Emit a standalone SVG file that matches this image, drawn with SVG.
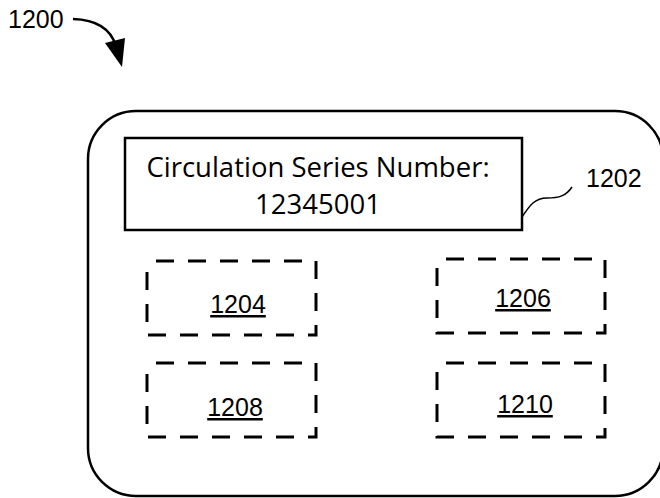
<svg xmlns="http://www.w3.org/2000/svg" width="660" height="498" viewBox="0 0 660 498">
<style>
.line{fill:none;stroke:#000;stroke-width:2.5}
.dash{fill:none;stroke:#000;stroke-width:3;stroke-dasharray:18 14;stroke-dashoffset:23}
.lbl{font-family:"Liberation Sans",Arial,sans-serif;font-size:25px;fill:#000}
.ul{text-decoration:underline}
.box{font-family:"Open Sans","Liberation Sans",sans-serif;font-size:27.5px;fill:#000;text-anchor:middle}
</style>
<rect width="660" height="498" fill="#fff"/>
<g id="ref-1200">
<text class="lbl" x="8" y="28">1200</text>
</g>
<g id="card">
<rect class="line" x="88" y="111" width="575" height="385" rx="48" ry="48"/>
</g>
<g id="node-1202">
<rect class="line" x="125" y="138" width="397" height="92"/>
<text class="box" x="318" y="177">Circulation Series Number:</text>
<text class="box" x="318" y="214">12345001</text>
<text class="lbl" x="586" y="187">1202</text>
</g>
<g id="node-1204">
<rect class="dash" x="147" y="261" width="169" height="74"/>
<text class="lbl ul" x="238" y="313" text-anchor="middle">1204</text>
</g>
<g id="node-1206">
<rect class="dash" x="437" y="259" width="168" height="74"/>
<text class="lbl ul" x="523" y="307" text-anchor="middle">1206</text>
</g>
<g id="node-1208">
<rect class="dash" x="147" y="363" width="169" height="74"/>
<text class="lbl ul" x="235" y="416" text-anchor="middle">1208</text>
</g>
<g id="node-1210">
<rect class="dash" x="437" y="363" width="168" height="74"/>
<text class="lbl ul" x="525" y="413" text-anchor="middle">1210</text>
</g>
<g id="connectors">
<path d="M73,19 Q108,20 116,46" class="line"/>
<polygon points="105,43 125,38 122,67" fill="#000"/>
<path d="M522,217 C530,205 535,198 547,198 C559,198 566,196 572,187" class="line" style="stroke-width:1.5"/>
</g>
</svg>
